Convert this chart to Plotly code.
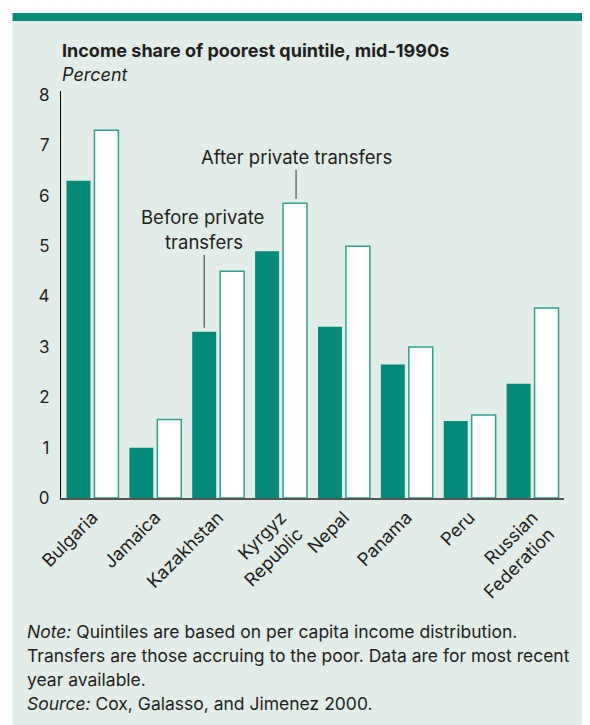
import plotly.graph_objects as go

categories = ["Bulgaria", "Jamaica", "Kazakhstan", "Kyrgyz<br>Republic",
              "Nepal", "Panama", "Peru", "Russian<br>Federation"]
before_transfers = [6.3, 1.0, 3.3, 4.9, 3.4, 2.65, 1.53, 2.27]
after_transfers = [7.3, 1.56, 4.5, 5.85, 5.0, 3.0, 1.65, 3.77]
y_ticks = [0, 1, 2, 3, 4, 5, 6, 7, 8]

TEAL = "#038A78"
OUTLINE = "#2FA08E"
BG = "#E2ECE8"
TXT = "#231F20"
FONT = "Inter, Liberation Sans, Arial, sans-serif"
FS = 18.5

OFF = 8  # page body margin
W, H = 582, 717
L, R, T, B = 52.5, 26, 83, 226.5
PW, PH = W - L - R, H - T - B


def px(xp):
    return (xp - OFF - L) / PW


def py(yp):
    return (H - B - (yp - OFF)) / PH


fig = go.Figure()
fig.add_trace(go.Bar(x=categories, y=before_transfers, name="Before private transfers",
                     marker=dict(color=TEAL, line=dict(width=0))))
fig.add_trace(go.Bar(x=categories, y=after_transfers, name="After private transfers",
                     marker=dict(color="white", line=dict(color=OUTLINE, width=1.5))))

shapes = [
    dict(type="rect", xref="paper", yref="paper", x0=px(12), x1=px(620), y0=py(760), y1=py(21),
         fillcolor=BG, line=dict(width=0), layer="below"),
    dict(type="rect", xref="paper", yref="paper", x0=px(12), x1=px(620), y0=py(21), y1=py(13),
         fillcolor=TEAL, line=dict(width=0), layer="below"),
]

annotations = [
    dict(text="<b>Income share of poorest quintile, mid-1990s</b>", xref="paper", yref="paper",
         x=px(59), y=py(50), xanchor="left", yanchor="middle", showarrow=False,
         font=dict(size=18, color=TXT, family=FONT)),
    dict(text="<i>Percent</i>", xref="paper", yref="paper",
         x=px(59), y=py(74), xanchor="left", yanchor="middle", showarrow=False,
         font=dict(size=18, color=TXT, family=FONT)),
    dict(text="After private transfers", x=categories[3], y=after_transfers[3], xref="x", yref="y",
         xshift=15, showarrow=True, arrowhead=0, arrowwidth=1, arrowcolor="#333",
         ax=0, ay=-46, standoff=4.5, font=dict(size=FS, color=TXT, family=FONT)),
    dict(text="transfers", x=categories[2], y=before_transfers[2], xref="x", yref="y",
         xshift=-14, showarrow=True, arrowhead=0, arrowwidth=1, arrowcolor="#333",
         ax=0, ay=-89.5, standoff=4, font=dict(size=FS, color=TXT, family=FONT)),
    dict(text="Before private", x=categories[2], y=before_transfers[2], xref="x", yref="y",
         xshift=-15.5, yshift=114.5, showarrow=False, yanchor="middle",
         font=dict(size=FS, color=TXT, family=FONT)),
]

note_lines = [
    "<i>Note:</i> Quintiles are based on per capita income distribution.",
    "Transfers are those accruing to the poor. Data are for most recent",
    "year available.",
    "<i>Source:</i> Cox, Galasso, and Jimenez 2000.",
]
for i, line in enumerate(note_lines):
    annotations.append(dict(text=line, xref="paper", yref="paper", x=px(24), y=py(632 + 24 * i),
                            xanchor="left", yanchor="middle", showarrow=False,
                            font=dict(size=17.5, color=TXT, family=FONT)))

fig.update_layout(
    width=W, height=H,
    margin=dict(l=L, r=R, t=T, b=B, pad=0),
    paper_bgcolor="white", plot_bgcolor="rgba(0,0,0,0)",
    barmode="group", bargap=0.111, bargroupgap=0.143,
    showlegend=False,
    font=dict(family=FONT, color=TXT, size=FS),
    shapes=shapes, annotations=annotations,
    xaxis=dict(showline=True, linecolor="#555", linewidth=2, showgrid=False, zeroline=False,
               ticks="", tickangle=-45, tickfont=dict(size=18, color=TXT), fixedrange=True),
    yaxis=dict(range=[0, 8.08], tickvals=y_ticks, showline=True, linecolor="black", linewidth=1.2,
               showgrid=False, zeroline=False, ticks="", ticklabelstandoff=7,
               tickfont=dict(size=17, color=TXT), fixedrange=True),
)

fig.write_html("out.html")
